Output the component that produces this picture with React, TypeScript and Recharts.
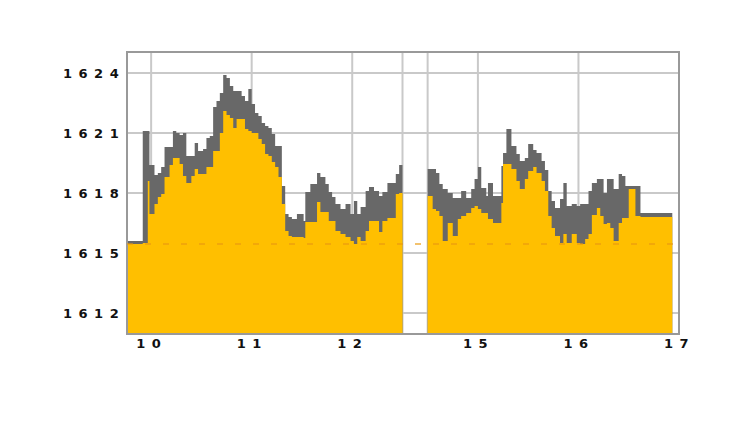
import React from "react";
import {
  ComposedChart,
  Area,
  XAxis,
  YAxis,
  CartesianGrid,
  ReferenceLine,
  ReferenceArea,
} from "recharts";

// Morning session (clock time, high, low)
const amTimes = [
  "09:46", "09:55", "09:58", "09:59", "10:02", "10:04", "10:06", "10:08", "10:11", "10:13",
  "10:15", "10:17", "10:19", "10:21", "10:24", "10:26", "10:28", "10:31", "10:33", "10:35",
  "10:37", "10:39", "10:41", "10:43", "10:45", "10:47", "10:49", "10:51", "10:54", "10:56",
  "10:58", "11:00", "11:02", "11:04", "11:06", "11:08", "11:10", "11:12", "11:14", "11:16",
  "11:18", "11:20", "11:22", "11:24", "11:27", "11:29", "11:31", "11:32", "11:35", "11:39",
  "11:41", "11:44", "11:46", "11:48", "11:50", "11:53", "11:56", "11:59", "12:01", "12:03",
  "12:05", "12:08", "12:10", "12:13", "12:16", "12:18", "12:21", "12:26", "12:28", "12:30",
];
const amHigh = [
  1615.6, 1621.1, 1621.1, 1619.4, 1618.9, 1619.0, 1619.3, 1620.3, 1620.3, 1621.1,
  1621.0, 1620.9, 1621.0, 1619.85, 1619.85, 1620.5, 1620.1, 1620.2, 1620.75, 1620.85,
  1622.3, 1622.6, 1623.0, 1623.9, 1623.75, 1623.35, 1623.1, 1623.1, 1622.85, 1622.6,
  1623.2, 1622.45, 1622.0, 1621.85, 1621.5, 1621.35, 1621.25, 1620.95, 1620.35, 1620.35,
  1618.35, 1616.95, 1616.8, 1616.7, 1616.95, 1616.95, 1616.6, 1618.05, 1618.45, 1619.0,
  1618.8, 1618.45, 1618.05, 1617.8, 1617.45, 1617.2, 1617.45, 1616.95, 1617.6, 1616.95,
  1617.3, 1618.1, 1618.3, 1618.1, 1617.85, 1618.05, 1618.5, 1618.95, 1619.4, 1619.4,
];
const amLow = [
  1615.45, 1615.5, 1618.6, 1616.95, 1617.45, 1617.8, 1617.95, 1618.8, 1619.4, 1619.75,
  1619.75, 1619.45, 1618.85, 1618.5, 1618.85, 1619.2, 1618.95, 1618.95, 1619.3, 1619.3,
  1620.1, 1620.1, 1621.0, 1622.1, 1621.9, 1621.75, 1621.25, 1621.7, 1621.7, 1621.2,
  1621.1, 1621.0, 1621.0, 1620.7, 1620.45, 1619.95, 1619.85, 1619.55, 1619.3, 1618.8,
  1617.45, 1616.1, 1615.85, 1615.8, 1615.8, 1615.8, 1615.75, 1616.55, 1616.55, 1617.55,
  1617.05, 1617.05, 1616.6, 1616.6, 1616.1, 1615.95, 1615.8, 1615.6, 1615.45, 1615.8,
  1615.6, 1616.1, 1616.6, 1616.6, 1616.05, 1616.6, 1616.75, 1617.95, 1618.0, 1618.0,
];

// Afternoon session (clock time, high, low)
const pmTimes = [
  "14:30", "14:33", "14:35", "14:37", "14:39", "14:42", "14:45", "14:48", "14:50", "14:53",
  "14:56", "14:58", "15:00", "15:02", "15:05", "15:06", "15:09", "15:12", "15:14", "15:15",
  "15:17", "15:20", "15:23", "15:25", "15:28", "15:30", "15:33", "15:35", "15:38", "15:40",
  "15:42", "15:44", "15:46", "15:49", "15:51", "15:53", "15:56", "15:59", "16:01", "16:04",
  "16:06", "16:08", "16:11", "16:13", "16:15", "16:17", "16:19", "16:21", "16:24", "16:26",
  "16:28", "16:30", "16:34", "16:37", "16:56",
];
const pmHigh = [
  1619.2, 1619.2, 1619.0, 1618.45, 1618.2, 1618.0, 1617.75, 1617.75, 1618.1, 1617.75,
  1618.2, 1618.7, 1619.3, 1618.25, 1617.85, 1618.5, 1617.85, 1617.85, 1619.35, 1620.0,
  1621.2, 1620.35, 1619.95, 1619.6, 1619.75, 1620.45, 1620.15, 1620.0, 1619.6, 1619.15,
  1618.1, 1617.6, 1617.25, 1617.7, 1618.5, 1617.35, 1617.45, 1617.35, 1617.45, 1617.45,
  1618.1, 1618.5, 1618.7, 1618.7, 1618.0, 1618.7, 1618.7, 1618.2, 1618.95, 1618.85,
  1618.35, 1618.35, 1618.35, 1617.0, 1617.0,
];
const pmLow = [
  1617.85, 1617.2, 1617.1, 1616.85, 1615.6, 1616.5, 1615.85, 1616.7, 1616.85, 1617.0,
  1617.25, 1617.35, 1617.2, 1617.0, 1617.0, 1616.7, 1616.5, 1616.5, 1617.5, 1619.45,
  1619.45, 1619.2, 1618.6, 1618.2, 1618.7, 1619.1, 1619.3, 1619.0, 1618.6, 1618.1,
  1616.85, 1616.25, 1615.85, 1615.5, 1615.95, 1615.5, 1615.95, 1615.5, 1615.45, 1615.7,
  1615.95, 1616.9, 1617.25, 1616.85, 1616.45, 1616.5, 1616.25, 1615.6, 1616.5, 1616.75,
  1616.75, 1618.2, 1616.85, 1616.8, 1616.8,
];

const previousClose = 1615.45;

const yTicks = [1612, 1615, 1618, 1621, 1624];
const xTickHours = [10, 11, 12, 12.5, 14.5, 15, 16, 17];
const xTickLabels = ["10", "11", "12", "", "", "15", "16", "17"];

// the lunch break 12:30 - 14:30 is shown as a narrow strip
const breakStart = 12.5;
const breakEnd = 14.5;
const breakWidth = 0.25;

const toHours = (t: string) => {
  const [h, m] = t.split(":").map(Number);
  return h + m / 60;
};
const toAxis = (h: number) =>
  h <= breakStart ? h : h - (breakEnd - breakStart) + breakWidth;

const data: { x: number; high: number | null; low: number | null }[] = [];
amTimes.forEach((t, i) => data.push({ x: toAxis(toHours(t)), high: amHigh[i], low: amLow[i] }));
data.push({ x: toAxis(breakStart) + 0.01, high: null, low: null });
pmTimes.forEach((t, i) => data.push({ x: toAxis(toHours(t)), high: pmHigh[i], low: pmLow[i] }));

const xTicks = xTickHours.map(toAxis);
const xLabelFor = (v: number) => {
  const i = xTicks.findIndex((t) => Math.abs(t - v) < 1e-6);
  return i >= 0 ? xTickLabels[i] : "";
};

const X_MIN = 9.76;
const X_MAX = toAxis(17);
const Y_MIN = 1610.95;
const Y_MAX = 1625.05;

const font = {
  fontFamily: "DejaVu Sans",
  fontWeight: "bold" as const,
  fontSize: 13,
  letterSpacing: 6.5,
  fill: "#111",
};

const YTick = (props: any) => {
  const { y, payload } = props;
  return (
    <text x={63} y={y + 5} {...font}>
      {payload.value}
    </text>
  );
};

const XTick = (props: any) => {
  const { x, payload } = props;
  const label = xLabelFor(payload.value);
  if (!label) return null;
  return (
    <text x={x - 15} y={347.5} {...font}>
      {label}
    </text>
  );
};

export default function App() {
  return (
    <div
      style={{
        position: "absolute",
        left: 0,
        top: 0,
        width: 750,
        height: 422,
        background: "#fff",
      }}
    >
      <ComposedChart
        width={750}
        height={422}
        data={data}
        margin={{ top: 52, right: 71, left: 0, bottom: 58 }}
      >
        <CartesianGrid stroke="#c9c9c9" strokeWidth={2} />
        <XAxis
          dataKey="x"
          type="number"
          domain={[X_MIN, X_MAX]}
          ticks={xTicks}
          allowDataOverflow
          axisLine={false}
          tickLine={false}
          height={30}
          tick={<XTick />}
          interval={0}
        />
        <YAxis
          type="number"
          domain={[Y_MIN, Y_MAX]}
          ticks={yTicks}
          allowDataOverflow
          axisLine={false}
          tickLine={false}
          width={127}
          tick={<YTick />}
          interval={0}
        />
        <Area
          type="stepAfter"
          dataKey="high"
          stroke="none"
          fill="#686868"
          fillOpacity={1}
          isAnimationActive={false}
          connectNulls={false}
          dot={false}
          activeDot={false}
        />
        <Area
          type="stepAfter"
          dataKey="low"
          stroke="none"
          fill="#FFBF00"
          fillOpacity={1}
          isAnimationActive={false}
          connectNulls={false}
          dot={false}
          activeDot={false}
        />
        <ReferenceLine
          y={previousClose}
          stroke="#e89a10"
          strokeWidth={1.5}
          strokeDasharray="6 12"
          strokeOpacity={0.8}
        />
        <ReferenceArea
          x1={X_MIN}
          x2={X_MAX}
          y1={Y_MIN}
          y2={Y_MAX}
          fill="none"
          stroke="#999999"
          strokeWidth={2}
          ifOverflow="visible"
        />
      </ComposedChart>
    </div>
  );
}
